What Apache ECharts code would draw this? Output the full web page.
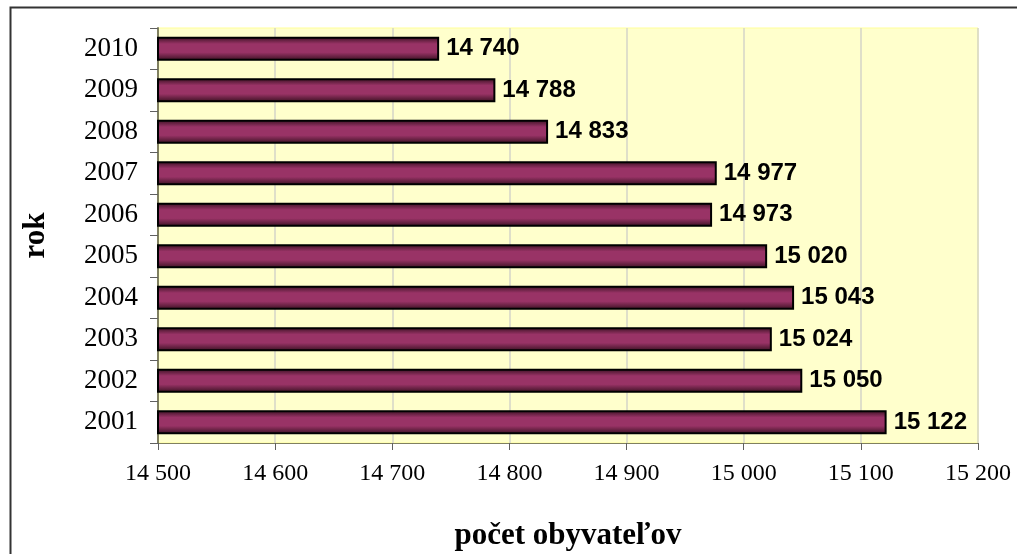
<!DOCTYPE html>
<html><head><meta charset="utf-8">
<script src="https://cdn.jsdelivr.net/npm/echarts@6/dist/echarts.min.js"></script>
<style>html,body{margin:0;padding:0;background:#fff}#c{width:1017px;height:554px}</style>
</head><body><div id="c"></div>
<script>
const years = ['2001','2002','2003','2004','2005','2006','2007','2008','2009','2010'];
const population = [15122, 15050, 15024, 15043, 15020, 14973, 14977, 14833, 14788, 14740];
const xTicks = [14500, 14600, 14700, 14800, 14900, 15000, 15100, 15200];
const xTitle = 'počet obyvateľov';
const yTitle = 'rok';

const fmt = v => { const s = String(v); return s.slice(0, s.length-3) + ' ' + s.slice(-3); };
const chart = echarts.init(document.getElementById('c'));
chart.setOption({
  animation: false,
  backgroundColor: '#fff',
  graphic: [
    {type:'rect', shape:{x:10.5,y:7.5,width:1100,height:700}, style:{fill:'none', stroke:'#333', lineWidth:2}, z:-10}
  ],
  grid: {left:158, right:39, top:28, bottom:111, outerBoundsMode:'none', containLabel:false, show:true, backgroundColor:'#ffffcc', borderColor:'#ffff99', borderWidth:1},
  xAxis: {
    type:'value', min:xTicks[0], max:xTicks[xTicks.length-1], interval:100,
    name:xTitle, nameLocation:'middle', nameGap:77,
    nameTextStyle:{fontFamily:'Liberation Serif', fontWeight:'bold', fontSize:31, color:'#000'},
    axisLine:{show:true, lineStyle:{color:'#808060', width:1}},
    axisTick:{show:true, length:7, lineStyle:{color:'#606060'}},
    axisLabel:{formatter: fmt, fontFamily:'Liberation Serif', fontSize:24, color:'#000', margin:19},
    splitLine:{show:true, lineStyle:{color:'#d4d4c8', width:1.5}}
  },
  yAxis: {
    type:'category', data:years,
    name:yTitle, nameLocation:'middle', nameGap:107, nameRotate:90,
    nameTextStyle:{fontFamily:'Liberation Serif', fontWeight:'bold', fontSize:31, color:'#000'},
    axisLine:{show:true, lineStyle:{color:'#808060', width:2}},
    axisTick:{show:true, length:8, lineStyle:{color:'#606060'}},
    axisLabel:{fontFamily:'Liberation Serif', fontSize:27, color:'#000', margin:20},
    splitLine:{show:false}
  },
  series: [{
    type:'bar', data:population, barCategoryGap:'42%',
    itemStyle:{
      borderColor:'#000', borderWidth:2,
      color:{type:'linear', x:0, y:0, x2:0, y2:1, colorStops:[
        {offset:0, color:'#36101f'}, {offset:0.3, color:'#993366'},
        {offset:0.65, color:'#993366'}, {offset:1, color:'#36101f'}]}
    },
    label:{show:true, position:'right', distance:7, formatter: p => fmt(p.value),
      fontFamily:'Liberation Sans', fontWeight:'bold', fontSize:24, color:'#000'}
  }]
});
</script></body></html>
